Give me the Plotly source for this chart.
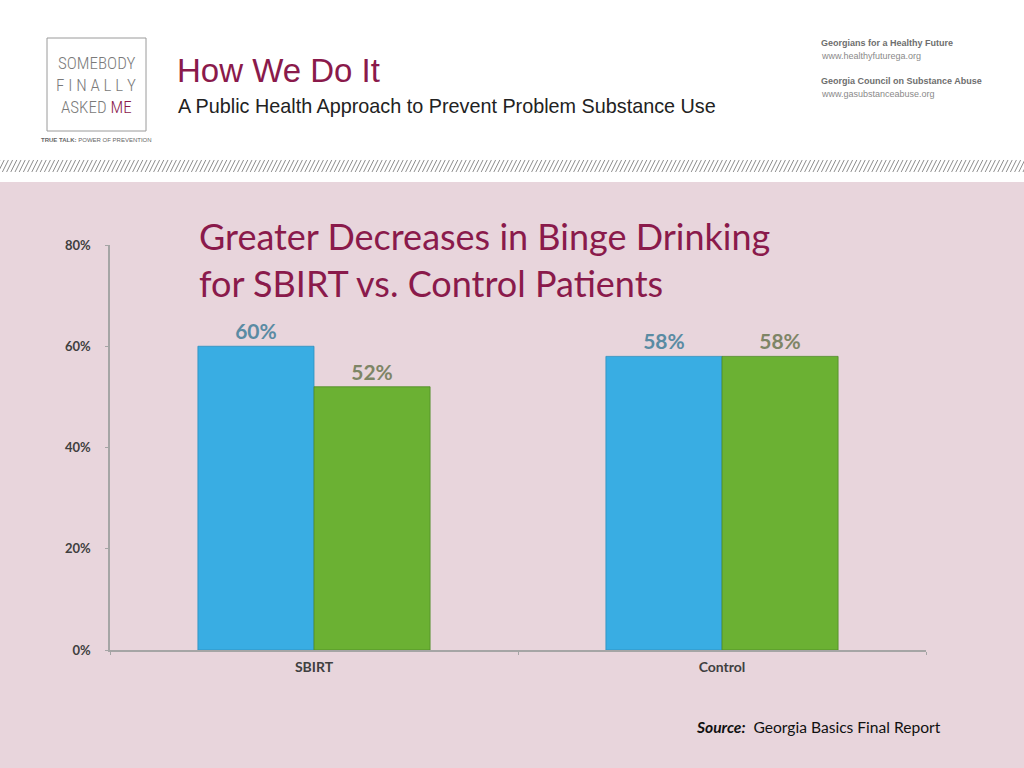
import plotly.graph_objects as go

# ---- data ----
categories = ["SBIRT", "Control"]
series_blue = [60, 58]
series_green = [52, 58]
y_ticks = [0, 20, 40, 60, 80]
y_tick_labels = ["0%", "20%", "40%", "60%", "80%"]

W, H = 1024, 768
PL, PR, PT, PB = 110, 926, 245, 650  # plot-area pixel box


def px(x):
    return (x - PL) / (PR - PL)


def py(y):
    return (PB - y) / (PB - PT)


MAROON = "#8A1A4B"
PINK = "#E8D5DC"

fig = go.Figure()
fig.add_trace(go.Bar(
    x=categories, y=series_blue, name="Series A",
    marker=dict(color="#39ADE3", line=dict(color="#2F8FBE", width=0.8)),
    text=[f"{v}%" for v in series_blue], textposition="outside",
    textfont=dict(family="Lato", size=21, color="#5A8BA3", weight="bold"),
    cliponaxis=False,
))
fig.add_trace(go.Bar(
    x=categories, y=series_green, name="Series B",
    marker=dict(color="#6BB133", line=dict(color="#4F8A26", width=0.8)),
    text=[f"{v}%" for v in series_green], textposition="outside",
    textfont=dict(family="Lato", size=21, color="#7E8566", weight="bold"),
    cliponaxis=False,
))

shapes = []
# pink panel
shapes.append(dict(type="rect", xref="paper", yref="paper", layer="below",
                   x0=px(0), x1=px(W), y0=py(H), y1=py(182),
                   fillcolor=PINK, line=dict(width=0)))
# hatched divider
segs = []
x = -6.0
while x < W + 6:
    segs.append(f"M{px(x):.5f},{py(172):.5f} L{px(x + 6):.5f},{py(160):.5f}")
    x += 4.2
shapes.append(dict(type="path", xref="paper", yref="paper", path=" ".join(segs),
                   line=dict(color="#8E8E8E", width=1)))
# logo box
shapes.append(dict(type="rect", xref="paper", yref="paper",
                   x0=px(47), x1=px(146), y0=py(131), y1=py(38),
                   fillcolor="white", line=dict(color="#9A9A9A", width=1)))

annotations = []


def ann(text, x, y, size, color, family="Lato", xanchor="left", yanchor="middle", **kw):
    annotations.append(dict(text=text, x=px(x), y=py(y), xref="paper", yref="paper",
                            showarrow=False, xanchor=xanchor, yanchor=yanchor,
                            font=dict(family=family, size=size, color=color, **kw)))


# logo text
LOGO_FONT = "Liberation Sans Narrow, Roboto Condensed, DejaVu Sans Condensed, sans-serif"
ann("SOMEBODY", 96, 63, 17, "#7A7A7A", family=LOGO_FONT, xanchor="center", weight=300)
ann("F I N A L L Y", 96, 85, 17, "#7A7A7A", family=LOGO_FONT, xanchor="center", weight=300)
ann("ASKED <span style='color:%s'>ME</span>" % MAROON, 96, 107, 17, "#7A7A7A",
    family=LOGO_FONT, xanchor="center", weight=300)
ann("<b>TRUE TALK:</b> POWER OF PREVENTION", 96, 140, 6, "#666666",
    family="Liberation Sans", xanchor="center")

# header titles
ann("How We Do It", 175, 70, 33, MAROON, family="Liberation Sans")
ann("A Public Health Approach to Prevent Problem Substance Use", 176, 106, 19.8,
    "#222222", family="Liberation Sans")

# right header text
ann("<b>Georgians for a Healthy Future</b>", 819, 43, 9, "#6E6E6E", family="Liberation Sans")
ann("www.healthyfuturega.org", 819, 56, 9, "#8A8A8A", family="Liberation Sans")
ann("<b>Georgia Council on Substance Abuse</b>", 819, 81, 9, "#6E6E6E", family="Liberation Sans")
ann("www.gasubstanceabuse.org", 819, 94, 9, "#8A8A8A", family="Liberation Sans")

# chart title
ann("Greater Decreases in Binge Drinking", 197, 236, 36, MAROON)
ann("for SBIRT vs. Control Patients", 197, 283, 36, MAROON)

# source
ann("<b><i>Source:</i></b>  Georgia Basics Final Report", 694, 727, 15.6, "#111111",
    family="Lato")

fig.update_layout(
    width=W, height=H, autosize=False,
    margin=dict(l=PL, r=W - PR, t=PT, b=H - PB, pad=0),
    paper_bgcolor="white", plot_bgcolor="rgba(0,0,0,0)",
    barmode="group", bargap=0.431, bargroupgap=0,
    showlegend=False,
    shapes=shapes, annotations=annotations,
    xaxis=dict(range=[-0.5, 1.5], showline=True, linecolor="#A5A5A5", linewidth=1.5,
               ticks="outside", tickson="boundaries", ticklen=3, tickcolor="#A5A5A5",
               ticklabelstandoff=3, showgrid=False, zeroline=False,
               tickfont=dict(family="Lato", size=14, color="#404040", weight="bold")),
    yaxis=dict(range=[0, 80], tickvals=y_ticks, ticktext=y_tick_labels,
               showline=True, linecolor="#A5A5A5", linewidth=1.5,
               ticks="outside", ticklen=3, tickcolor="#A5A5A5",
               ticklabelstandoff=12, showgrid=False, zeroline=False,
               tickfont=dict(family="Lato", size=13, color="#404040", weight="bold")),
)

fig.write_html("out.html", config={"displayModeBar": False},
               post_script="document.body.style.margin='0';document.body.style.overflow='hidden';")
